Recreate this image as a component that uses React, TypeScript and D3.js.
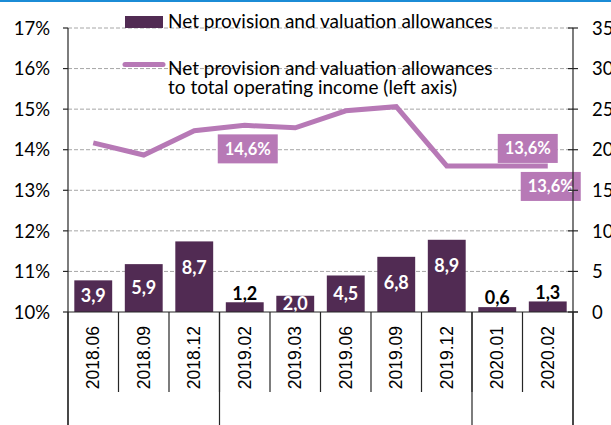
import React from "react";
import * as d3 from "d3";

const categories = ["2018.06", "2018.09", "2018.12", "2019.02", "2019.03", "2019.06", "2019.09", "2019.12", "2020.01", "2020.02"];
const provisions = [3.9, 5.9, 8.7, 1.2, 2.0, 4.5, 6.8, 8.9, 0.6, 1.3];
const ratioToIncome = [14.17, 13.87, 14.47, 14.6, 14.54, 14.96, 15.06, 13.6, 13.6, 13.6];
const leftTicks = [10, 11, 12, 13, 14, 15, 16, 17];
const rightTicks = [0, 5, 10, 15, 20, 25, 30, 35];
const seriesBarName = "Net provision and valuation allowances";
const seriesLineName = ["Net provision and valuation allowances", "to total operating income (left axis)"];
const lineLabelIdx = [3, 9, 9];

const W = 611, H = 425;
const X0 = 68, X1 = 573, YT = 28, YB = 312;
const BAR = "#512b53";
const LINE = "#b779b6";
const FONT = "Lato, 'Open Sans', sans-serif";

const fmt = (v: number) => v.toFixed(1).replace(".", ",");

export default function App() {
  const x = d3.scaleBand<string>().domain(categories).range([X0, X1]).paddingInner(0.25).paddingOuter(0.125);
  const step = x.step();
  const yL = d3.scaleLinear().domain([10, 17]).range([YB, YT]);
  const yR = d3.scaleLinear().domain([0, 35]).range([YB, YT]);
  const cx = (c: string) => (x(c) as number) + x.bandwidth() / 2;

  const line = d3.line<number>().x((_, i) => cx(categories[i])).y(v => yL(v));

  // group boundaries (year changes)
  const groupBounds: number[] = [X0];
  categories.forEach((c, i) => {
    if (i > 0 && c.slice(0, 4) !== categories[i - 1].slice(0, 4)) groupBounds.push(X0 + step * i);
  });
  groupBounds.push(X1);

  const labelOffsets = [
    { dx: 3, dy: 23.5 },
    { dx: -20, dy: -17.5 },
    { dx: 3, dy: 20.5 },
  ];

  return (
    <svg width={W} height={H} style={{ position: "absolute", left: 0, top: 0, background: "#fff" }} fontFamily={FONT}>
      <rect x={0} y={0} width={W} height={H} fill="#fff" />
      <rect x={0} y={0} width={W} height={2} fill="#1b8cd6" />
      <defs>
        <clipPath id="plot">
          <rect x={X0} y={0} width={X1 - X0} height={YB} />
        </clipPath>
      </defs>
      {/* gridlines */}
      {leftTicks.filter(t => t > 10).map(t => (
        <line key={t} x1={X0} x2={X1} y1={yL(t)} y2={yL(t)} stroke="#a6a6a6" strokeWidth={1} strokeDasharray="4,2" />
      ))}
      {/* bars */}
      {provisions.map((v, i) => (
        <rect key={i} x={x(categories[i])} y={yR(v)} width={x.bandwidth()} height={YB - yR(v)} fill={BAR} />
      ))}
      {/* bar labels */}
      <g clipPath="url(#plot)" fontWeight="bold" fontSize={18} textAnchor="middle">
        {provisions.map((v, i) => {
          const top = yR(v);
          const h = YB - top;
          const small = v < 1.5;
          const yc = small ? top - 9 : top + Math.min(h / 2, 26);
          return (
            <text key={i} x={cx(categories[i])} y={yc} dy="0.35em" fill={small ? "#000" : "#fff"}>{fmt(v)}</text>
          );
        })}
      </g>
      {/* line */}
      <path d={line(ratioToIncome) || ""} fill="none" stroke={LINE} strokeWidth={5} strokeLinejoin="miter" />
      {/* line labels */}
      {lineLabelIdx.map((idx, k) => {
        const px = cx(categories[idx]) + labelOffsets[k].dx;
        const py = yL(ratioToIncome[idx]) + labelOffsets[k].dy;
        return (
          <g key={k}>
            <rect x={px - 30} y={py - 14.5} width={60} height={29} fill={LINE} />
            <text x={px} y={py} dy="0.35em" textAnchor="middle" fill="#fff" fontWeight="bold" fontSize={16.5}>
              {fmt(ratioToIncome[idx]) + "%"}
            </text>
          </g>
        );
      })}
      {/* axes */}
      <g stroke="#262626" strokeWidth={1.2}>
        <line x1={X0} x2={X0} y1={YT} y2={H} />
        <line x1={X1} x2={X1} y1={YT} y2={H} />
        <line x1={X0} x2={X1 + 5} y1={YB} y2={YB} />
        {leftTicks.map(t => (
          <line key={"l" + t} x1={X0 - 5} x2={X0} y1={yL(t)} y2={yL(t)} />
        ))}
        {rightTicks.map(t => (
          <line key={"r" + t} x1={X1 - 5} x2={X1 + 5} y1={yR(t)} y2={yR(t)} />
        ))}
        {categories.map((c, i) => i === 0 ? null : (
          <line key={"c" + i} x1={X0 + step * i} x2={X0 + step * i} y1={YB} y2={392} />
        ))}
        {groupBounds.map((b, i) => (
          <line key={"g" + i} x1={b} x2={b} y1={YB} y2={H} />
        ))}
      </g>
      {/* left labels */}
      <g fontSize={18.5} fill="#000" textAnchor="end">
        {leftTicks.map(t => (
          <text key={t} x={50} y={yL(t)} dy="0.36em">{t + "%"}</text>
        ))}
      </g>
      {/* right labels */}
      <g fontSize={18.5} fill="#000" textAnchor="start">
        {rightTicks.map(t => (
          <text key={t} x={592} y={yR(t)} dy="0.36em">{t}</text>
        ))}
      </g>
      {/* x labels */}
      <g fontSize={17.5} fill="#000" fontFamily="'Liberation Sans', Arial, sans-serif">
        {categories.map(c => (
          <text key={c} transform={`translate(${cx(c)},${326}) rotate(-90)`} textAnchor="end" dy="0.35em">{c}</text>
        ))}
      </g>
      {/* legend */}
      <rect x={125} y={16} width={38} height={12} fill={BAR} />
      <text x={168} y={28} fontSize={19} fill="#000">{seriesBarName}</text>
      <line x1={125} x2={163} y1={64.5} y2={64.5} stroke={LINE} strokeWidth={5} strokeLinecap="round" />
      <text x={168} y={74.5} fontSize={19} fill="#000">{seriesLineName[0]}</text>
      <text x={168} y={94} fontSize={19} fill="#000">{seriesLineName[1]}</text>
    </svg>
  );
}
